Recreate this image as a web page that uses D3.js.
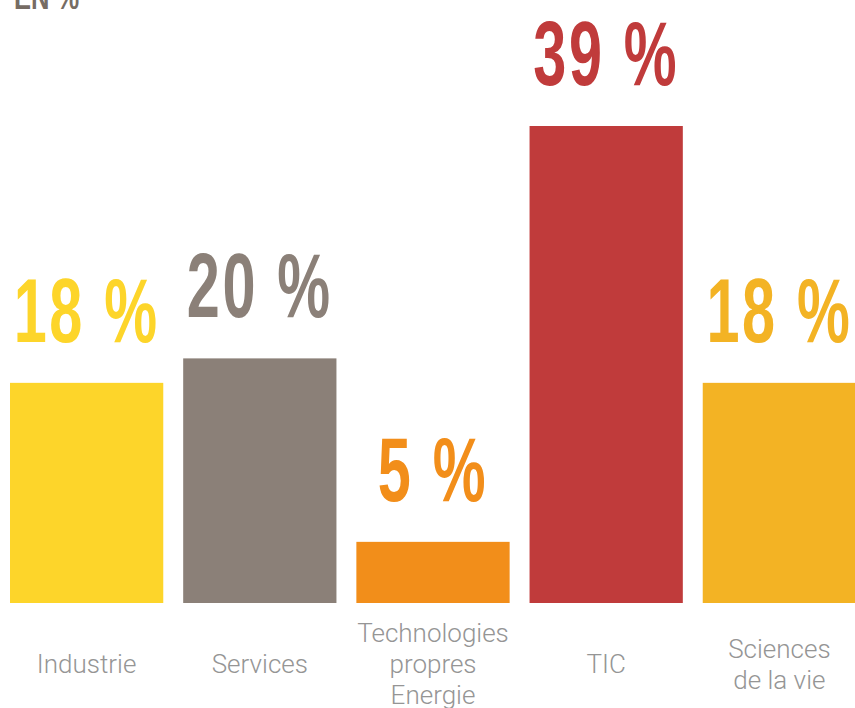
<!DOCTYPE html>
<html>
<head>
<meta charset="utf-8">
<script src="https://cdn.jsdelivr.net/npm/d3@7"></script>
<style>
  html, body { margin: 0; padding: 0; background: #fff; overflow: hidden; }
</style>
</head>
<body>
<div id="wrapper"></div>
<script>
// data
const categories = ["Industrie", "Services", "Technologies\npropres\nEnergie", "TIC", "Sciences\nde la vie"]
const values = [18, 20, 5, 39, 18]
const colors = ["#FDD52A", "#8B8078", "#F28E1A", "#C03B3B", "#F3B324"]
const unitLabel = "EN %"

function drawBars() {
  const dat = categories.map((c, i) => ({ cat: c, val: values[i], col: colors[i] }))

  const dim = { width: 855, height: 708 }

  const svg = d3.select("#wrapper")
    .append("svg")
    .attr("width", dim.width)
    .attr("height", dim.height)

  // scales
  const x_scale = d3.scaleBand()
    .domain(categories)
    .range([10, 856])
    .paddingInner(0.115)
    .paddingOuter(0)
  const y_scale = d3.scaleLinear()
    .domain([0, 39])
    .range([603, 126])

  // unit label, top left (clipped in the original)
  svg.append("text")
    .attr("transform", "translate(14, 9) scale(0.75, 1)")
    .attr("font-family", "'Liberation Sans Narrow', sans-serif")
    .attr("font-weight", "bold")
    .attr("font-size", 34)
    .attr("fill", "#766C64")
    .text(unitLabel)

  // bars
  svg.selectAll("rect.bar")
    .data(dat)
    .join("rect")
    .attr("class", "bar")
    .attr("x", d => x_scale(d.cat))
    .attr("y", d => y_scale(d.val))
    .attr("width", x_scale.bandwidth())
    .attr("height", d => y_scale(0) - y_scale(d.val))
    .attr("fill", d => d.col)

  // value labels
  svg.selectAll("text.val")
    .data(dat)
    .join("text")
    .attr("class", "val")
    .attr("transform", d =>
      `translate(${x_scale(d.cat) + x_scale.bandwidth() / 2}, ${y_scale(d.val) - 41}) scale(0.66, 1)`)
    .attr("text-anchor", "middle")
    .attr("font-family", "'Liberation Sans Narrow', sans-serif")
    .attr("font-weight", "bold")
    .attr("font-size", 90)
    .attr("letter-spacing", 4)
    .attr("fill", d => d.col)
    .text(d => d.val + " %")

  // category labels
  const lineH = 31
  const midBase = 673
  const cats = svg.selectAll("text.cat")
    .data(dat)
    .join("text")
    .attr("class", "cat")
    .attr("text-anchor", "middle")
    .attr("font-family", "Roboto, sans-serif")
    .attr("font-weight", 300)
    .attr("font-size", 26)
    .attr("fill", "#959595")
  cats.each(function (d) {
    const lines = d.cat.split("\n")
    const cx = x_scale(d.cat) + x_scale.bandwidth() / 2
    d3.select(this).selectAll("tspan")
      .data(lines)
      .join("tspan")
      .attr("x", cx)
      .attr("y", (l, i) => midBase + (i - (lines.length - 1) / 2) * lineH)
      .text(l => l)
  })
}
drawBars()
</script>
</body>
</html>
